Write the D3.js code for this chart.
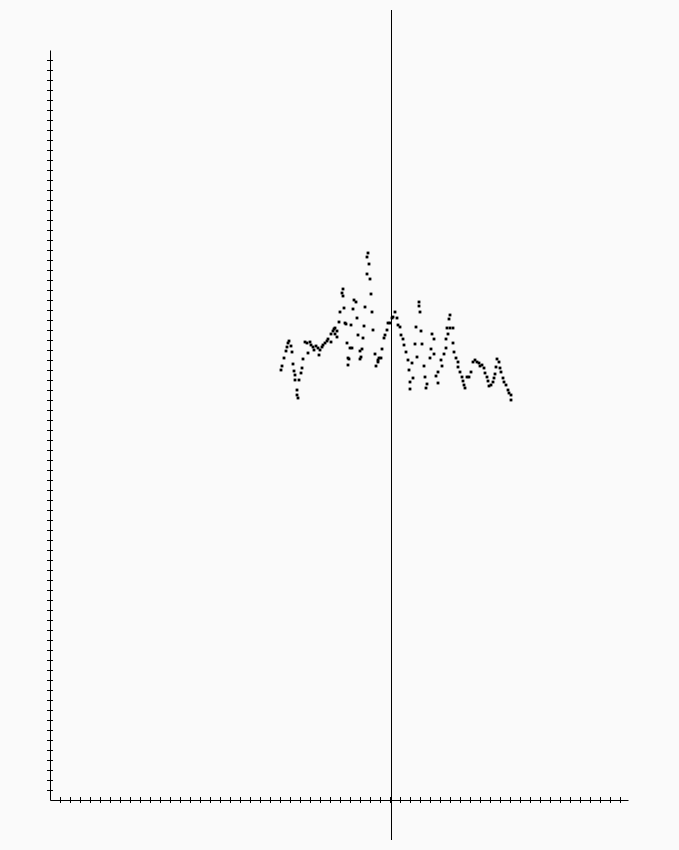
<!DOCTYPE html>
<html>
<head>
<meta charset="utf-8">
<script src="https://cdn.jsdelivr.net/npm/d3@7"></script>
<style>
  html, body { margin: 0; padding: 0; background: #fafafa; }
  svg { display: block; }
</style>
</head>
<body>
<script>
const xValues = [
  23.1,23.2,23.4,23.6,23.7,23.8,23.9,24.1,24.2,24.3,
  24.4,24.5,24.5,24.7,24.7,24.8,24.9,25.1,25.2,25.3,
  25.5,25.7,25.8,26.0,26.1,26.3,26.4,26.6,26.8,26.9,
  27.0,27.2,27.3,27.5,27.7,27.8,28.1,28.1,28.3,28.4,
  28.5,28.5,28.7,28.7,28.9,29.0,29.2,29.3,29.3,29.4,
  29.5,29.6,29.7,29.8,29.9,29.8,30.0,30.1,30.2,30.3,
  30.4,30.6,30.7,30.8,31.0,31.1,31.0,31.2,31.3,31.4,
  31.5,31.7,31.7,31.8,31.9,32.0,32.1,32.2,32.3,32.5,
  32.6,32.8,32.8,32.9,33.1,33.2,33.4,33.5,33.7,33.8,
  34.0,34.2,34.3,34.5,34.7,34.8,35.0,35.1,35.3,35.4,
  35.6,35.8,35.9,36.0,36.0,36.2,36.3,36.5,36.6,36.7,
  36.9,36.9,37.0,37.1,37.2,37.4,37.5,37.6,37.7,38.0,
  38.1,38.2,38.4,38.4,38.6,38.8,38.8,39.1,39.2,39.4,
  39.6,39.6,39.7,39.8,39.9,40.0,40.0,40.3,40.3,40.4,
  40.6,40.8,40.8,41.0,41.2,41.3,41.4,41.5,41.7,41.9,
  42.1,42.3,42.5,42.7,42.9,43.0,43.2,43.4,43.5,43.7,
  43.8,43.9,44.1,44.3,44.4,44.5,44.6,44.7,44.9,45.0,
  45.1,45.3,45.4,45.6,45.8,45.9,46.1,46.1
];
const yValues = [
  43.0,43.4,44.2,44.9,45.3,45.7,45.9,45.4,44.8,43.6,
  42.9,42.5,42.0,41.0,40.5,40.2,42.0,42.7,43.2,44.1,
  45.8,45.7,44.7,45.8,45.5,45.3,45.0,45.4,45.2,44.5,
  45.0,45.3,45.5,45.7,45.9,46.1,46.6,45.8,46.9,47.1,
  46.6,47.2,46.9,46.3,47.8,48.8,50.7,51.1,50.4,49.2,
  47.7,47.6,45.7,44.2,44.1,43.5,45.2,47.5,45.2,49.1,
  50.0,49.8,48.2,46.5,44.9,44.3,44.1,45.1,46.2,47.4,
  49.3,52.6,54.3,54.7,53.6,52.1,50.6,48.8,47.0,44.6,
  43.4,44.0,43.8,44.2,44.2,45.1,46.2,46.5,47.0,47.7,
  47.7,48.2,48.3,48.8,48.2,47.5,47.3,46.5,46.1,45.5,
  44.8,44.0,43.0,41.8,41.1,43.7,42.2,45.6,47.3,44.3,
  49.8,49.4,48.8,46.9,45.6,43.4,42.3,41.2,41.6,44.2,
  45.1,46.6,46.1,44.6,42.4,42.8,41.7,44.0,43.4,44.6,
  46.1,45.2,47.2,46.6,48.1,48.5,47.2,47.2,45.7,44.8,
  44.2,43.8,43.3,42.8,42.3,41.9,41.5,41.2,42.3,42.3,
  42.8,43.8,44.0,43.8,43.7,43.4,43.5,43.2,42.7,42.3,
  41.9,41.4,41.5,41.8,42.2,42.6,43.3,44.1,43.8,43.2,
  42.8,42.2,41.8,41.5,41.0,40.7,40.5,40.0
];
const xTicks = d3.range(1, 58);   // 1..57
const yTicks = d3.range(1, 75);   // 1..74
const xDomain = [0, 57.8];
const yDomain = [0, 75];
const refLineX = 34.1;
const refLineYExtent = [-4, 79];

const W = 679, H = 850;
const svg = d3.select("body").append("svg").attr("width", W).attr("height", H);
svg.append("rect").attr("width", W).attr("height", H).attr("fill", "#fafafa");

const x = d3.scaleLinear().domain(xDomain).range([50, 628]);
const y = d3.scaleLinear().domain(yDomain).range([800, 50]);

const xAxis = svg.append("g").attr("transform", "translate(0,800)")
  .call(d3.axisBottom(x).tickValues(xTicks).tickFormat("").tickSize(3).tickSizeOuter(0));
xAxis.selectAll(".tick line").attr("y1", -3).attr("y2", 3).attr("stroke", "#000");
xAxis.select(".domain").attr("stroke", "#000");

const yAxis = svg.append("g").attr("transform", "translate(50,0)")
  .call(d3.axisLeft(y).tickValues(yTicks).tickFormat("").tickSize(3).tickSizeOuter(0));
yAxis.selectAll(".tick line").attr("x1", -3).attr("x2", 3).attr("stroke", "#000");
yAxis.select(".domain").attr("stroke", "#000");

const rx = Math.round(x(refLineX)) + 0.5;
svg.append("line")
  .attr("x1", rx).attr("x2", rx)
  .attr("y1", y(refLineYExtent[0])).attr("y2", y(refLineYExtent[1]))
  .attr("stroke", "#000").attr("stroke-width", 1);

const pts = xValues.map((v, i) => [v, yValues[i]]);
const s = 2.8;
svg.append("g").selectAll("rect").data(pts).join("rect")
  .attr("x", d => x(d[0]) - s / 2)
  .attr("y", d => y(d[1]) - s / 2)
  .attr("width", s).attr("height", s)
  .attr("fill", "#000");
</script>
</body>
</html>
